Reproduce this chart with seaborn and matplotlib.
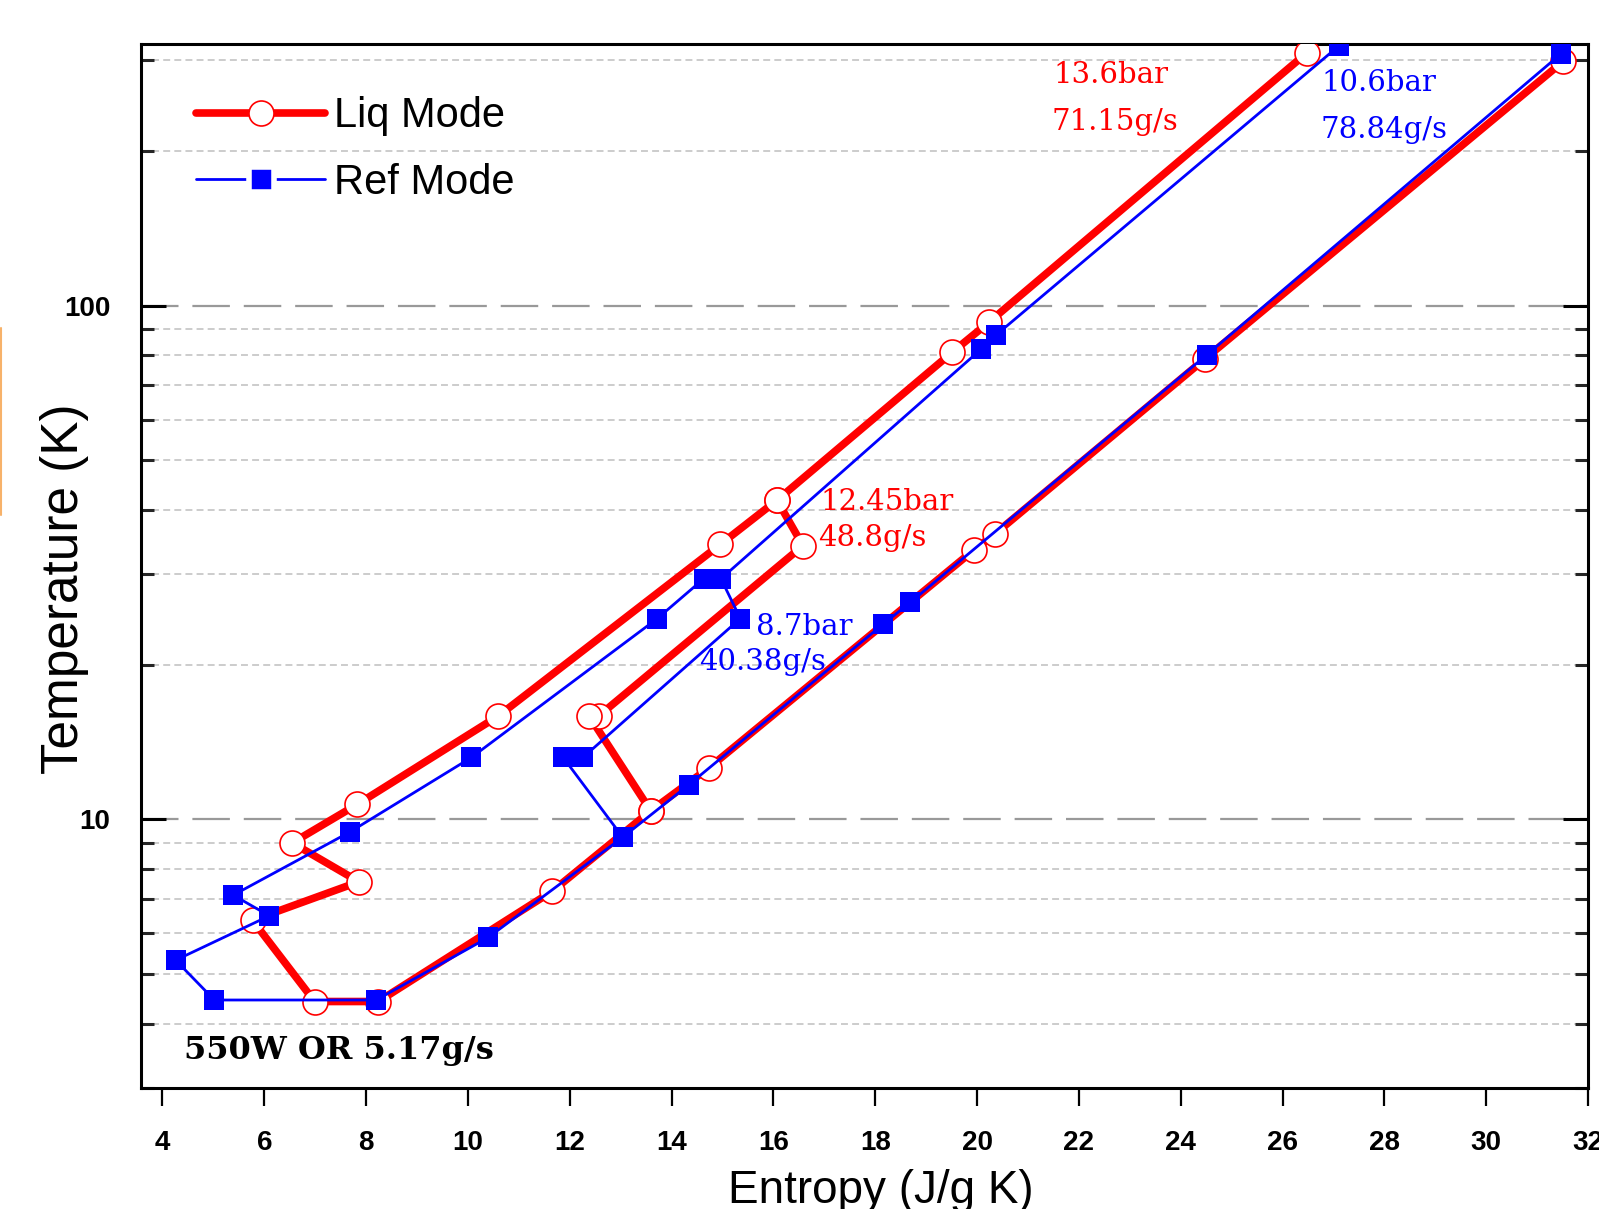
import pandas as pd
import matplotlib
matplotlib.use("Agg")
import matplotlib.pyplot as plt
from matplotlib.lines import Line2D
from matplotlib.ticker import NullFormatter
import seaborn as sns

# Liq Mode (red): main path of the cycle, then the branch through the middle exchanger
LIQ_S = [26.47, 20.23, 19.51, 16.07, 14.96, 10.60, 7.83, 6.55, 7.86, 5.77, 6.99, 8.24,
         11.66, 13.59, 14.73, 19.93, 20.36, 24.47, 31.51]
LIQ_T = [310.1, 92.8, 81.1, 41.8, 34.3, 15.9, 10.7, 9.0, 7.56, 6.36, 4.42, 4.42,
         7.25, 10.39, 12.59, 33.4, 36.0, 78.7, 298.8]
LIQ_BRANCH_S = [16.07, 16.58, 12.57, 12.38, 13.59]
LIQ_BRANCH_T = [41.8, 34.1, 15.9, 15.9, 10.39]

# Ref Mode (blue)
REF_S = [27.10, 20.37, 20.08, 14.97, 14.63, 13.72, 10.07, 7.69, 5.39, 6.10, 4.26, 5.02, 8.20,
         10.40, 13.04, 14.34, 18.15, 18.69, 24.51, 31.47]
REF_T = [320.0, 87.6, 82.3, 29.4, 29.4, 24.6, 13.2, 9.46, 7.12, 6.49, 5.32, 4.45, 4.45,
         5.89, 9.23, 11.68, 23.97, 26.45, 80.2, 309.3]
REF_BRANCH_S = [14.97, 15.35, 12.26, 11.87, 13.04]
REF_BRANCH_T = [29.4, 24.6, 13.2, 13.2, 9.23]

X_TICKS = list(range(4, 33, 2))
Y_TICKS = [10, 100]
Y_MINOR = [3, 4, 5, 6, 7, 8, 9, 20, 30, 40, 50, 60, 70, 80, 90, 200, 300]

RED, BLUE = "#ff0000", "#0000ff"

sns.set_theme(style="white")
plt.rcParams["font.family"] = ["Liberation Sans", "DejaVu Sans"]
plt.rcParams["lines.scale_dashes"] = False
plt.rcParams["text.color"] = "black"
plt.rcParams["axes.labelcolor"] = "black"


def frame(s, t, seg):
    return pd.DataFrame({"s": s, "T": t, "seg": seg})


liq = pd.concat([frame(LIQ_S, LIQ_T, 0), frame(LIQ_BRANCH_S, LIQ_BRANCH_T, 1)], ignore_index=True)
ref = pd.concat([frame(REF_S, REF_T, 0), frame(REF_BRANCH_S, REF_BRANCH_T, 1)], ignore_index=True)

fig = plt.figure(figsize=(15.99, 12.09), dpi=100)
ax = fig.add_axes([0.0882, 0.1001, 0.905, 0.8635])

sns.lineplot(data=liq, x="s", y="T", units="seg", estimator=None, sort=False, ax=ax,
             color=RED, linewidth=5.5, marker="o", markersize=18, markerfacecolor="white",
             markeredgecolor=RED, markeredgewidth=1.2, legend=False, zorder=3)
sns.lineplot(data=ref, x="s", y="T", units="seg", estimator=None, sort=False, ax=ax,
             color=BLUE, linewidth=2, marker="s", markersize=14.5, markerfacecolor=BLUE,
             markeredgecolor=BLUE, markeredgewidth=0, legend=False, zorder=4)

ax.set_yscale("log")
ax.set_xlim(3.58, 32.0)
ax.set_ylim(3.04, 323)

ax.set_xticks(X_TICKS)
ax.set_xticklabels([str(v) for v in X_TICKS])
ax.set_xticks([10, 20, 30], minor=True)
ax.set_yticks(Y_TICKS)
ax.set_yticklabels([str(v) for v in Y_TICKS])
ax.set_yticks(Y_MINOR, minor=True)
ax.yaxis.set_minor_formatter(NullFormatter())

for sp in ax.spines.values():
    sp.set_visible(True)
    sp.set_linewidth(2.2)
    sp.set_color("black")

ax.tick_params(axis="x", which="major", direction="out", length=13, width=1.6, pad=17,
               labelsize=20, colors="black", bottom=True, top=False)
ax.tick_params(axis="x", which="minor", direction="out", length=18, width=1.6,
               bottom=True, top=False)
ax.tick_params(axis="y", which="major", direction="in", length=18, width=2.2, pad=22,
               labelsize=20, colors="black", left=True, right=True)
ax.tick_params(axis="y", which="minor", direction="in", length=9.5, width=2.2,
               left=True, right=True)
for lab in ax.get_xticklabels() + ax.get_yticklabels():
    lab.set_fontweight("bold")

ax.grid(False)
ax.yaxis.grid(True, which="minor", color="#c4c4c4", linestyle=(0, (5, 3)), linewidth=1.2)
ax.yaxis.grid(True, which="major", color="#999999", linestyle=(0, (27, 10)), linewidth=1.6)
ax.set_axisbelow(True)

ax.set_xlabel("Entropy (J/g K)", fontsize=33)
ax.set_ylabel("Temperature (K)", fontsize=37)
ax.xaxis.set_label_coords(0.511, -0.0776)
ax.yaxis.set_label_coords(-0.036, 0.478)

serif = ["DejaVu Serif"]
ax.text(21.50, 271.2, "13.6bar", color=RED, fontsize=21, family=serif)
ax.text(21.46, 219.8, "71.15g/s", color=RED, fontsize=21, family=serif)
ax.text(26.76, 262.0, "10.6bar", color=BLUE, fontsize=21, family=serif)
ax.text(26.74, 212.1, "78.84g/s", color=BLUE, fontsize=21, family=serif)
ax.text(16.92, 39.96, "12.45bar", color=RED, fontsize=21, family=serif)
ax.text(16.88, 34.1, "48.8g/s", color=RED, fontsize=21, family=serif)
ax.text(15.65, 22.85, "8.7bar", color=BLUE, fontsize=21, family=serif)
ax.text(14.54, 19.54, "40.38g/s", color=BLUE, fontsize=21, family=serif)
ax.text(4.43, 3.42, "550W OR 5.17g/s", color="black", fontsize=23, fontweight="bold",
        family=serif)

handles = [
    Line2D([], [], color=RED, lw=5.5, marker="o", ms=18, mfc="white", mec=RED, mew=1.2,
           label="Liq Mode"),
    Line2D([], [], color=BLUE, lw=2, marker="s", ms=18, mfc=BLUE, mec="white", mew=4,
           label="Ref Mode"),
]
ax.legend(handles=handles, loc="upper left", bbox_to_anchor=(0.038, 0.950), frameon=False,
          fontsize=30, handlelength=3.1, handletextpad=0.2, labelspacing=0.64,
          borderpad=0, borderaxespad=0)

# thin orange mark at the left edge of the original image
fig.add_artist(Line2D([0.0008, 0.0008], [1 - 328 / 1209, 1 - 515 / 1209],
                      transform=fig.transFigure, color="#f7b26a", lw=1.5))

fig.savefig("out.png", dpi=100)
plt.close(fig)
